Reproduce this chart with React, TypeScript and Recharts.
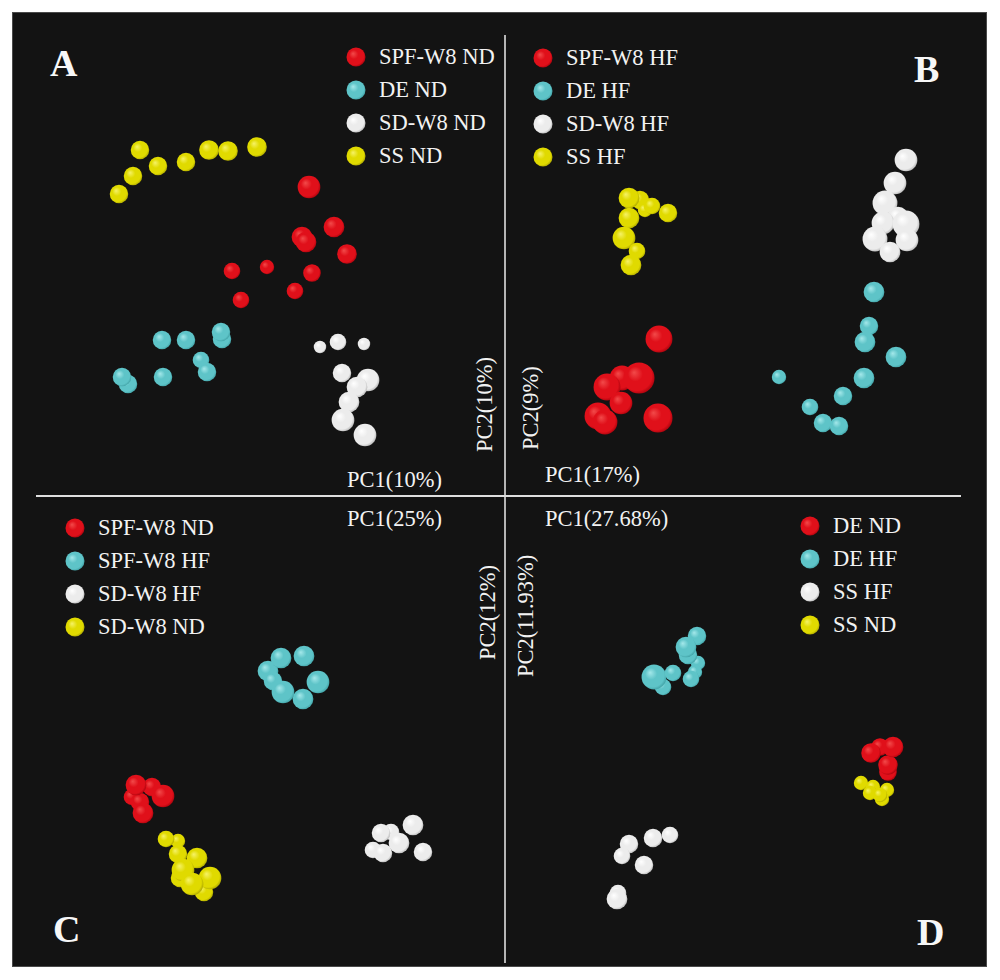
import { ScatterChart, Scatter, XAxis, YAxis, ZAxis, Legend } from "recharts";

type Pt = { x: number; y: number; z: number };

// x, y = PC1/PC2 score (0-100 over the panel), z = depth (PC3) for sphere size

// Panel A — ND groups
const aSpfNd: Pt[] = [
    { x: 61.8, y: 62.6, z: 6.0 }, { x: 66.8, y: 54.6, z: 5.0 }, { x: 60.4, y: 52.6, z: 5.0 },
    { x: 61.2, y: 51.6, z: 5.0 }, { x: 69.4, y: 49.2, z: 4.5 }, { x: 62.4, y: 45.4, z: 3.6 },
    { x: 59.0, y: 41.8, z: 3.2 }, { x: 53.4, y: 46.6, z: 2.4 }, { x: 46.4, y: 45.8, z: 3.2 },
    { x: 48.2, y: 40.0, z: 3.2 },
];
const aDeNd: Pt[] = [
    { x: 32.4, y: 32.0, z: 4.0 }, { x: 37.2, y: 32.0, z: 4.0 }, { x: 44.4, y: 32.2, z: 4.0 },
    { x: 44.2, y: 33.6, z: 4.0 }, { x: 40.2, y: 28.0, z: 3.2 }, { x: 41.4, y: 25.6, z: 4.0 },
    { x: 32.6, y: 24.6, z: 4.0 }, { x: 25.6, y: 23.2, z: 4.0 }, { x: 24.4, y: 24.6, z: 4.0 },
];
const aSdNd: Pt[] = [
    { x: 64.0, y: 30.6, z: 1.8 }, { x: 67.6, y: 31.6, z: 3.2 }, { x: 72.8, y: 31.2, z: 1.8 },
    { x: 68.4, y: 25.4, z: 4.0 }, { x: 73.6, y: 24.0, z: 6.0 }, { x: 71.4, y: 22.6, z: 5.0 },
    { x: 69.8, y: 19.6, z: 5.0 }, { x: 68.6, y: 16.0, z: 6.0 }, { x: 73.0, y: 13.0, z: 6.0 },
];
const aSsNd: Pt[] = [
    { x: 28.0, y: 70.0, z: 4.0 }, { x: 31.6, y: 66.8, z: 4.0 }, { x: 26.6, y: 64.8, z: 4.0 },
    { x: 23.8, y: 61.2, z: 4.0 }, { x: 37.2, y: 67.6, z: 4.0 }, { x: 41.8, y: 70.0, z: 4.5 },
    { x: 45.6, y: 69.8, z: 4.5 }, { x: 51.4, y: 70.6, z: 4.5 },
];

// Panel B — HF groups
const bSpfHf: Pt[] = [
    { x: 31.8, y: 32.2, z: 8.4 }, { x: 24.4, y: 24.4, z: 7.2 }, { x: 27.8, y: 24.4, z: 11.2 },
    { x: 21.4, y: 22.6, z: 8.4 }, { x: 24.2, y: 19.4, z: 6.0 }, { x: 19.6, y: 16.8, z: 8.4 },
    { x: 21.0, y: 15.6, z: 7.2 }, { x: 31.6, y: 16.4, z: 9.8 },
];
const bDeHf: Pt[] = [
    { x: 74.8, y: 41.6, z: 5.0 }, { x: 73.8, y: 34.8, z: 4.0 }, { x: 73.0, y: 31.6, z: 5.0 },
    { x: 79.2, y: 28.6, z: 5.0 }, { x: 72.8, y: 24.4, z: 5.0 }, { x: 55.8, y: 24.6, z: 2.4 },
    { x: 68.6, y: 20.8, z: 4.0 }, { x: 62.0, y: 18.6, z: 3.2 }, { x: 64.6, y: 15.4, z: 4.0 },
    { x: 67.8, y: 14.8, z: 4.0 },
];
const bSdHf: Pt[] = [
    { x: 81.2, y: 68.0, z: 6.0 }, { x: 79.0, y: 63.4, z: 6.0 }, { x: 77.0, y: 59.4, z: 7.2 },
    { x: 79.6, y: 56.6, z: 5.0 }, { x: 76.6, y: 55.4, z: 6.0 }, { x: 81.2, y: 55.2, z: 8.4 },
    { x: 81.4, y: 52.0, z: 6.0 }, { x: 75.0, y: 52.2, z: 7.2 }, { x: 78.0, y: 49.6, z: 5.0 },
];
const bSsHf: Pt[] = [
    { x: 28.0, y: 60.0, z: 4.0 }, { x: 25.8, y: 60.4, z: 5.0 }, { x: 29.0, y: 58.0, z: 2.4 },
    { x: 30.4, y: 58.8, z: 3.2 }, { x: 33.6, y: 57.4, z: 4.0 }, { x: 25.8, y: 56.4, z: 5.0 },
    { x: 24.8, y: 52.4, z: 6.0 }, { x: 27.4, y: 49.8, z: 3.2 }, { x: 26.2, y: 47.0, z: 5.0 },
];

// Panel C — weight-matched SPF / SD
const cSpfNd: Pt[] = [
    { x: 26.4, y: 36.6, z: 3.2 }, { x: 28.0, y: 35.6, z: 4.0 }, { x: 30.4, y: 38.6, z: 4.0 },
    { x: 27.2, y: 39.0, z: 5.0 }, { x: 32.6, y: 36.8, z: 6.0 }, { x: 28.6, y: 33.4, z: 5.0 },
];
const cSpfHf: Pt[] = [
    { x: 53.6, y: 61.8, z: 5.0 }, { x: 56.2, y: 64.4, z: 5.0 }, { x: 60.8, y: 64.8, z: 5.0 },
    { x: 54.6, y: 59.8, z: 4.0 }, { x: 63.6, y: 59.6, z: 6.0 }, { x: 56.6, y: 57.6, z: 6.0 },
    { x: 60.6, y: 56.2, z: 5.0 },
];
const cSdHf: Pt[] = [
    { x: 74.6, y: 26.0, z: 3.2 }, { x: 78.2, y: 29.6, z: 3.2 }, { x: 76.2, y: 29.4, z: 4.0 },
    { x: 82.6, y: 31.0, z: 5.0 }, { x: 76.6, y: 25.4, z: 4.0 }, { x: 79.8, y: 27.4, z: 5.0 },
    { x: 84.6, y: 25.6, z: 4.0 },
];
const cSdNd: Pt[] = [
    { x: 35.6, y: 27.8, z: 2.4 }, { x: 33.2, y: 28.2, z: 3.2 }, { x: 35.6, y: 25.2, z: 4.0 },
    { x: 39.4, y: 24.4, z: 5.0 }, { x: 36.0, y: 20.4, z: 4.0 }, { x: 36.6, y: 22.0, z: 6.0 },
    { x: 40.8, y: 17.6, z: 4.0 }, { x: 42.0, y: 20.4, z: 6.0 }, { x: 38.4, y: 19.2, z: 6.0 },
];

// Panel D — DE / SS
const dDeNd: Pt[] = [
    { x: 77.6, y: 41.6, z: 3.6 }, { x: 76.0, y: 46.6, z: 3.6 }, { x: 74.2, y: 45.4, z: 4.4 },
    { x: 77.6, y: 43.0, z: 4.4 }, { x: 78.6, y: 46.6, z: 5.0 },
];
const dDeHf: Pt[] = [
    { x: 32.6, y: 58.6, z: 3.2 }, { x: 30.8, y: 60.6, z: 7.2 }, { x: 34.6, y: 61.4, z: 3.2 },
    { x: 39.6, y: 63.4, z: 2.4 }, { x: 39.0, y: 61.6, z: 2.4 }, { x: 38.2, y: 60.2, z: 3.2 },
    { x: 37.6, y: 65.0, z: 4.0 }, { x: 39.4, y: 68.8, z: 4.0 }, { x: 37.2, y: 66.6, z: 5.0 },
];
const dSsHf: Pt[] = [
    { x: 34.0, y: 29.0, z: 3.2 }, { x: 30.6, y: 28.4, z: 4.0 }, { x: 25.8, y: 27.2, z: 4.0 },
    { x: 24.4, y: 24.8, z: 3.2 }, { x: 28.8, y: 23.0, z: 4.0 }, { x: 23.6, y: 17.4, z: 3.2 },
    { x: 23.4, y: 16.2, z: 5.0 },
];
const dSsNd: Pt[] = [
    { x: 72.2, y: 39.4, z: 2.4 }, { x: 74.6, y: 38.6, z: 2.4 }, { x: 77.4, y: 38.0, z: 2.4 },
    { x: 74.0, y: 37.4, z: 2.4 }, { x: 76.4, y: 36.2, z: 2.4 }, { x: 76.0, y: 37.0, z: 2.4 },
];

const aNames = ["SPF-W8 ND", "DE ND", "SD-W8 ND", "SS ND"];
const bNames = ["SPF-W8 HF", "DE HF", "SD-W8 HF", "SS HF"];
const cNames = ["SPF-W8 ND", "SPF-W8 HF", "SD-W8 HF", "SD-W8 ND"];
const dNames = ["DE ND", "DE HF", "SS HF", "SS ND"];

const colorOrder = ["red", "cyan", "white", "yellow"];

const SERIF = '"Liberation Serif", "Times New Roman", serif';

const gradients: Record<string, [string, string, string]> = {
    red: ["#f24a4a", "#e0101a", "#a0000a"],
    cyan: ["#a4e8ea", "#5ec4c8", "#3a9a9e"],
    white: ["#ffffff", "#ececec", "#ababab"],
    yellow: ["#f6f266", "#e0da00", "#a09a00"],
};

type Series = { name: string; data: Pt[]; color: string };
type Panel = { id: string; left: number; top: number; legendLeft: number; legendTop: number; series: Series[] };

const mk = (names: string[], sets: Pt[][]): Series[] =>
    names.map((n, i) => ({ name: n, data: sets[i], color: colorOrder[i] }));

const panels: Panel[] = [
    { id: "A", left: 0, top: 0, legendLeft: 346, legendTop: 40, series: mk(aNames, [aSpfNd, aDeNd, aSdNd, aSsNd]) },
    { id: "B", left: 500, top: 0, legendLeft: 33, legendTop: 41, series: mk(bNames, [bSpfHf, bDeHf, bSdHf, bSsHf]) },
    { id: "C", left: 0, top: 480, legendLeft: 65, legendTop: 31, series: mk(cNames, [cSpfNd, cSpfHf, cSdHf, cSdNd]) },
    { id: "D", left: 500, top: 480, legendLeft: 300, legendTop: 29, series: mk(dNames, [dDeNd, dDeHf, dSsHf, dSsNd]) },
];

function Sphere(props: any) {
    const { cx, cy, width, size, color } = props;
    if (cx == null || cy == null) return null;
    const r = width ? width / 2 : Math.sqrt((size ?? 64) / Math.PI);
    return <circle cx={cx} cy={cy} r={r} fill={`url(#sph-${color})`} />;
}

function PanelChart({ p }: { p: Panel }) {
    const legend = () => (
        <div style={{ fontFamily: SERIF, fontSize: 22.5, color: "#f2f2f2" }}>
            {p.series.map((s) => (
                <div key={s.name} style={{ display: "flex", alignItems: "center", height: 33, whiteSpace: "nowrap" }}>
                    <svg width={20} height={20}>
                        <circle cx={10} cy={10} r={9.5} fill={`url(#sph-${s.color})`} />
                    </svg>
                    <span style={{ marginLeft: 13, lineHeight: "33px" }}>{s.name}</span>
                </div>
            ))}
        </div>
    );
    return (
        <div style={{ position: "absolute", left: p.left, top: p.top }}>
            <ScatterChart width={500} height={500} margin={{ top: 0, right: 0, bottom: 0, left: 0 }}>
                <XAxis type="number" dataKey="x" domain={[0, 100]} hide />
                <YAxis type="number" dataKey="y" domain={[0, 100]} hide />
                <ZAxis type="number" dataKey="z" domain={[0, 20]} range={[0, 1350]} />
                <Legend
                    layout="vertical"
                    align="center"
                    verticalAlign="middle"
                    content={legend}
                    wrapperStyle={{ left: p.legendLeft, top: p.legendTop, width: 200, height: 140 }}
                />
                {p.series.map((s) => (
                    <Scatter
                        key={s.name}
                        name={s.name}
                        data={s.data}
                        fill={s.color}
                        isAnimationActive={false}
                        shape={(props: any) => <Sphere {...props} color={s.color} />}
                    />
                ))}
            </ScatterChart>
        </div>
    );
}

const textStyle = { fontFamily: SERIF, fontSize: 22.5, fill: "#f2f2f2" };
const letterStyle = { fontFamily: SERIF, fontSize: 38, fontWeight: 700, fill: "#f7f7f7" };

export default function App() {
    return (
        <div style={{ position: "absolute", left: 0, top: 0, width: 1000, height: 980, background: "#fff", overflow: "hidden" }}>
            <svg width={0} height={0} style={{ position: "absolute" }}>
                <defs>
                    {Object.entries(gradients).map(([k, [hi, mid, lo]]) => (
                        <radialGradient key={k} id={`sph-${k}`} cx="45%" cy="45%" r="60%" fx="34%" fy="32%">
                            <stop offset="0%" stopColor={hi} />
                            <stop offset="40%" stopColor={mid} />
                            <stop offset="80%" stopColor={mid} />
                            <stop offset="100%" stopColor={lo} />
                        </radialGradient>
                    ))}
                </defs>
            </svg>
            <div style={{ position: "absolute", left: 13, top: 13, width: 973, height: 953, background: "#131313", boxShadow: "0 0 0 1px #4a4a4a" }} />
            {panels.map((p) => (
                <PanelChart key={p.id} p={p} />
            ))}
            <svg width={1000} height={980} style={{ position: "absolute", left: 0, top: 0, pointerEvents: "none" }}>
                <line x1={505} y1={35} x2={505} y2={963} stroke="#b5b5b5" strokeWidth={2} />
                <line x1={36} y1={496} x2={961} y2={496} stroke="#dedede" strokeWidth={2} />
                <text x={50} y={76} style={letterStyle}>A</text>
                <text x={914} y={82} style={letterStyle}>B</text>
                <text x={53} y={942} style={letterStyle}>C</text>
                <text x={917} y={945} style={letterStyle}>D</text>
                <text x={347} y={487} style={textStyle}>PC1(10%)</text>
                <text x={545} y={482} style={textStyle}>PC1(17%)</text>
                <text x={347} y={526} style={textStyle}>PC1(25%)</text>
                <text x={545} y={526} style={textStyle}>PC1(27.68%)</text>
                <text x={492} y={452} transform="rotate(-90 492 452)" style={textStyle}>PC2(10%)</text>
                <text x={538} y={450} transform="rotate(-90 538 450)" style={textStyle}>PC2(9%)</text>
                <text x={495} y={660} transform="rotate(-90 495 660)" style={textStyle}>PC2(12%)</text>
                <text x={533} y={677} transform="rotate(-90 533 677)" style={textStyle}>PC2(11.93%)</text>
            </svg>
        </div>
    );
}
